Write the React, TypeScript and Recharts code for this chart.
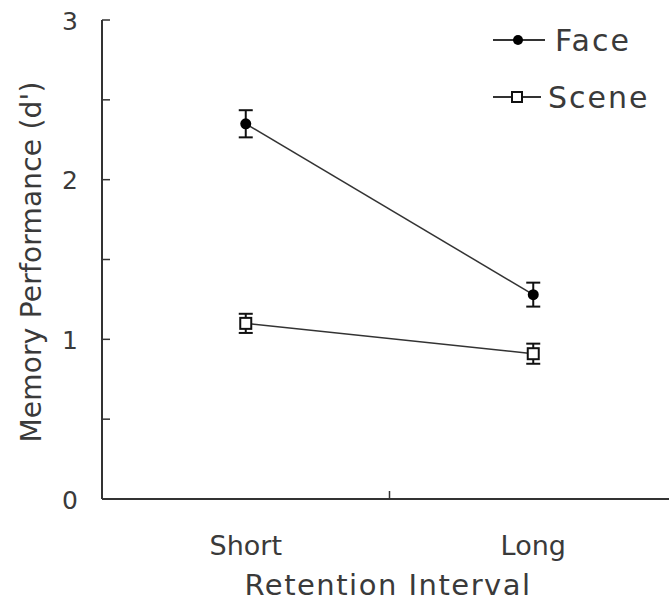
import React from "react";
import { ComposedChart, Line, XAxis, YAxis, ErrorBar, Customized } from "recharts";

const categories = ["Short", "Long"];
const faceValues = [2.35, 1.28];
const faceErrors = [0.085, 0.075];
const sceneValues = [1.1, 0.91];
const sceneErrors = [0.06, 0.063];
const yTicks = [0, 0.5, 1, 1.5, 2, 2.5, 3];
const xTicks = [0.5, 1, 1.5];

const data = categories.map((c, i) => ({
  name: c,
  x: i + 0.5,
  face: faceValues[i],
  faceErr: faceErrors[i],
  scene: sceneValues[i],
  sceneErr: sceneErrors[i],
}));

const FONT = "'DejaVu Sans', sans-serif";
const TEXT = "#3a3a3a";
const AXIS = "#333";

const YTick = (props: any) => {
  const { x, y, payload } = props;
  const v = payload.value;
  const isInt = Math.abs(v - Math.round(v)) < 1e-6;
  return (
    <g>
      {v !== 0 && <line x1={x} x2={x + 8} y1={y} y2={y} stroke={AXIS} strokeWidth={1.5} />}
      {isInt && (
        <text x={x - 32} y={y + 1} textAnchor="middle" dominantBaseline="central" fontFamily={FONT} fontSize={25} fill={TEXT}>
          {v}
        </text>
      )}
    </g>
  );
};

const XTick = (props: any) => {
  const { x, y, payload } = props;
  const v = payload.value;
  if (Math.abs(v - 1) < 1e-6) {
    return <line x1={x} x2={x} y1={y} y2={y - 8} stroke={AXIS} strokeWidth={1.5} />;
  }
  const idx = Math.round(v - 0.5);
  return (
    <text x={x} y={y + 46} textAnchor="middle" dominantBaseline="central" fontFamily={FONT} fontSize={27} fill={TEXT}>
      {categories[idx]}
    </text>
  );
};

const SquareDot = (props: any) => {
  const { cx, cy } = props;
  if (cx == null || cy == null) return null;
  return <rect x={cx - 5.5} y={cy - 5.5} width={11} height={11} fill="#fff" stroke="#111" strokeWidth={2} />;
};

const CircleDot = (props: any) => {
  const { cx, cy } = props;
  if (cx == null || cy == null) return null;
  return <circle cx={cx} cy={cy} r={5.5} fill="#000" stroke="none" />;
};

const Labels = () => (
  <g>
    <text x={31} y={262} transform="rotate(-90 31 262)" textAnchor="middle" dominantBaseline="central" fontFamily={FONT} fontSize={28} letterSpacing={0.2} fill={TEXT}>
      Memory Performance (d')
    </text>
    <text x={388} y={585} textAnchor="middle" dominantBaseline="central" fontFamily={FONT} fontSize={29} letterSpacing={1.5} fill={TEXT}>
      Retention Interval
    </text>
    <line x1={493} x2={545} y1={40} y2={40} stroke="#333" strokeWidth={2} />
    <circle cx={518} cy={40} r={5} fill="#000" />
    <text x={555} y={40} dominantBaseline="central" fontFamily={FONT} fontSize={30} letterSpacing={2} fill={TEXT}>
      Face
    </text>
    <line x1={493} x2={541} y1={97} y2={97} stroke="#333" strokeWidth={2} />
    <rect x={512} y={92} width={10} height={10} fill="#fff" stroke="#111" strokeWidth={2} />
    <text x={548} y={97} dominantBaseline="central" fontFamily={FONT} fontSize={30} letterSpacing={2} fill={TEXT}>
      Scene
    </text>
  </g>
);

export default function App() {
  return (
    <div style={{ position: "absolute", left: 0, top: 0, width: 669, height: 608, overflow: "hidden", background: "#fff" }}>
      <ComposedChart width={680} height={608} data={data} margin={{ top: 20, right: 3, bottom: 0, left: 0 }}>
        <XAxis
          dataKey="x"
          type="number"
          domain={[0, 2]}
          ticks={xTicks}
          tick={<XTick />}
          tickLine={false}
          tickSize={0}
          tickMargin={0}
          axisLine={{ stroke: AXIS, strokeWidth: 2 }}
          height={109}
          interval={0}
        />
        <YAxis
          type="number"
          domain={[0, 3]}
          ticks={yTicks}
          tick={<YTick />}
          tickLine={false}
          tickSize={0}
          tickMargin={0}
          axisLine={{ stroke: AXIS, strokeWidth: 2 }}
          width={102}
          interval={0}
        />
        <Line dataKey="face" stroke="#333" strokeWidth={1.5} dot={<CircleDot />} isAnimationActive={false}>
          <ErrorBar dataKey="faceErr" width={7} stroke="#111" strokeWidth={2} direction="y" />
        </Line>
        <Line dataKey="scene" stroke="#333" strokeWidth={1.5} dot={<SquareDot />} isAnimationActive={false}>
          <ErrorBar dataKey="sceneErr" width={7} stroke="#111" strokeWidth={2} direction="y" />
        </Line>
        <Customized component={Labels} />
      </ComposedChart>
    </div>
  );
}
